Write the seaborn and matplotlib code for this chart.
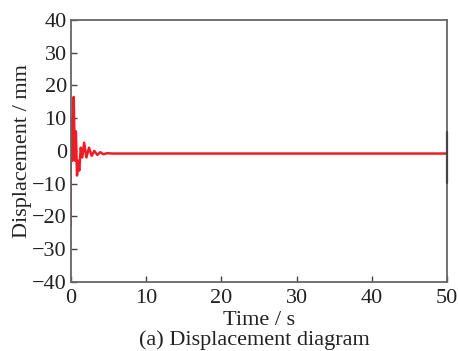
import matplotlib
matplotlib.use("Agg")
import matplotlib.pyplot as plt
import seaborn as sns
import pandas as pd

# Data
time_s = [0.0, 0.05, 0.1, 0.18, 0.3, 0.36, 0.45, 0.55, 0.65, 0.8, 0.95, 1.1, 1.3,
          1.5, 1.75, 2.05, 2.4, 2.75, 3.1, 3.5, 3.9, 4.3, 4.8, 5.5, 50.0]
disp_mm = [0.0, -3.0, 10.0, -3.0, 14.0, 16.5, 5.0, -3.0, 6.0, -7.5, -3.0, -6.0, 1.0,
           -2.0, 2.5, -2.0, 1.0, -1.5, 0.0, -1.2, -0.4, -1.0, -0.7, -0.8, -0.8]
spike_t = [0.0, 0.0]
spike_y = [2.0, -23.0]
end_t = [50.0, 50.0]
end_y = [5.8, -9.8]

x_ticks = [0, 10, 20, 30, 40, 50]
y_ticks = [-40, -30, -20, -10, 0, 10, 20, 30, 40]

sns.set_theme(style="ticks")
plt.rcParams["font.family"] = ["Liberation Serif", "DejaVu Serif"]

fig = plt.figure(figsize=(4.58, 3.51), dpi=100)
ax = fig.add_axes([0.155, 0.197, 0.821, 0.746])

df = pd.DataFrame({"t": time_s, "d": disp_mm})
sns.lineplot(data=df, x="t", y="d", ax=ax, color="#ee1c25", linewidth=1.8,
             estimator=None, sort=False)
sns.lineplot(x=spike_t, y=spike_y, ax=ax, color="#ee1c25", linewidth=0.7,
             estimator=None, sort=False)
sns.lineplot(x=end_t, y=end_y, ax=ax, color="#444444", linewidth=1.6,
             estimator=None, sort=False, clip_on=False, zorder=5)

ax.set_xlim(0, 50)
ax.set_ylim(-40, 40)
ax.set_xticks(x_ticks)
ax.set_yticks(y_ticks)
ax.set_yticklabels(["\u221240", "\u221230", "\u221220", "\u221210", "0", "10", "20", "30", "40"])
ax.tick_params(direction="in", length=4, width=1.0, color="#444444",
               labelsize=16, labelcolor="#222222",
               top=False, right=False)
ax.tick_params(axis="x", pad=5)
ax.tick_params(axis="y", pad=3)
for s in ax.spines.values():
    s.set_color("#666666")
    s.set_linewidth(1.3)
    s.set_visible(True)

ax.set_xlabel("Time / s", fontsize=16, color="#222222", labelpad=2)
ax.set_ylabel("Displacement / mm", fontsize=16, color="#222222", labelpad=0)
fig.text(0.555, 0.032, "(a) Displacement diagram", ha="center", va="center",
         fontsize=16, color="#222222")

fig.savefig("out.png", dpi=100)
